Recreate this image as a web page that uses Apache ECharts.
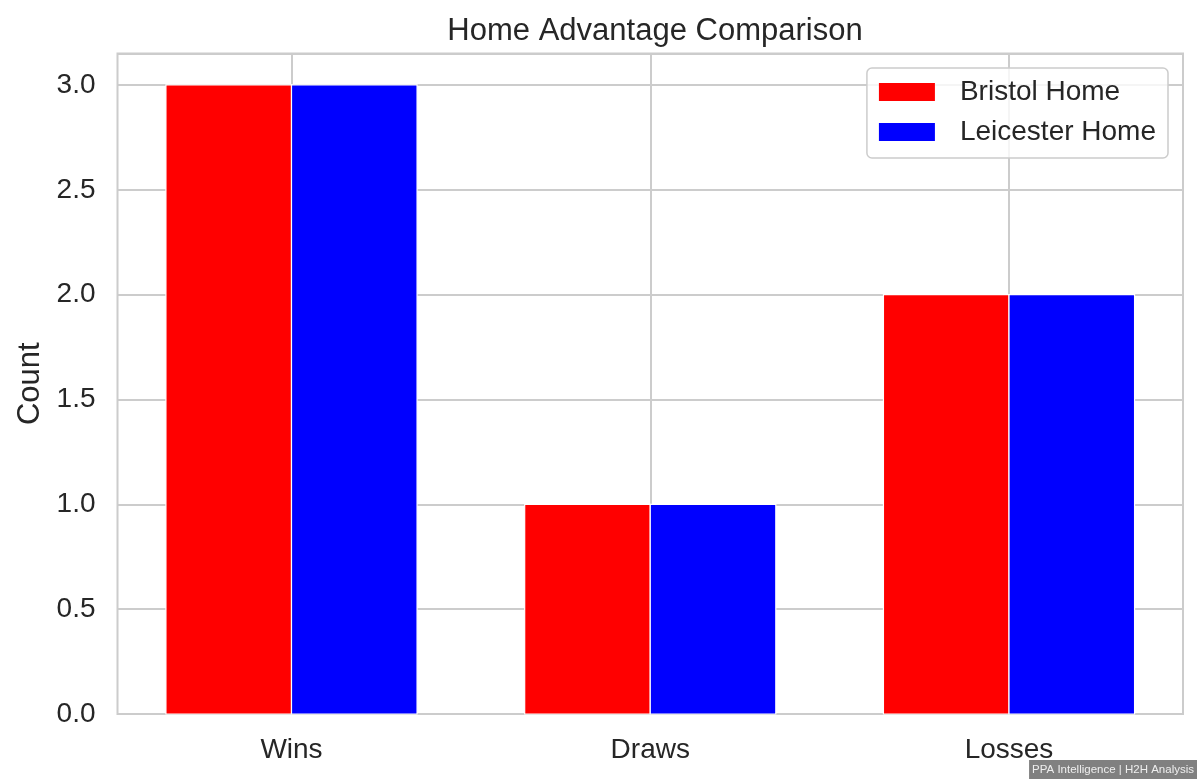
<!DOCTYPE html>
<html>
<head>
<meta charset="utf-8">
<script src="https://cdn.jsdelivr.net/npm/echarts@6/dist/echarts.min.js"></script>
<style>
html,body{margin:0;padding:0;background:#fff;}
#chart{width:1200px;height:781px;}
</style>
</head>
<body>
<div id="chart"></div>
<script>
const categories = ['Wins', 'Draws', 'Losses'];
const bristolHome = [3, 1, 2];
const leicesterHome = [3, 1, 2];
const seriesNames = ['Bristol Home', 'Leicester Home'];
const yTicks = [0, 0.5, 1.0, 1.5, 2.0, 2.5, 3.0];

const FONT = '"Liberation Sans", Arial, sans-serif';
const TXT = '#262626';
const GRIDC = '#cccccc';
const BAR_W = 0.35;
const offsets = [-BAR_W / 2, BAR_W / 2];
const colors = ['#ff0000', '#0000ff'];

function makeRender(k) {
  return function (params, api) {
    const x = api.value(0) + offsets[k];
    const p0 = api.coord([x - BAR_W / 2, api.value(1)]);
    const p1 = api.coord([x + BAR_W / 2, 0]);
    return {
      type: 'rect',
      shape: { x: p0[0], y: p0[1], width: p1[0] - p0[0], height: p1[1] - p0[1] },
      style: api.style({ fill: colors[k], stroke: '#ffffff', lineWidth: 1.2 })
    };
  };
}

const allSeries = [bristolHome, leicesterHome].map((vals, k) => ({
  name: seriesNames[k],
  type: 'custom',
  renderItem: makeRender(k),
  itemStyle: { color: colors[k] },
  encode: { x: 0, y: 1 },
  data: vals.map((v, i) => [i, v]),
  z: 3
}));

const chart = echarts.init(document.getElementById('chart'), null, { renderer: 'canvas' });
chart.setOption({
  animation: false,
  backgroundColor: '#ffffff',
  textStyle: { fontFamily: FONT },
  title: {
    text: 'Home Advantage Comparison',
    left: 650, textAlign: 'center',
    top: 11,
    textStyle: { fontFamily: FONT, fontSize: 31, fontWeight: 'normal', color: TXT }
  },
  legend: {
    orient: 'vertical',
    right: 32, top: 68,
    padding: [10, 12, 12, 12],
    itemWidth: 56, itemHeight: 18, itemGap: 12,
    icon: 'rect',
    borderColor: GRIDC, borderWidth: 1.5, borderRadius: 5,
    backgroundColor: 'rgba(255,255,255,0.8)',
    textStyle: { fontFamily: FONT, fontSize: 28, color: TXT, lineHeight: 28, padding: [0, 0, 0, 20] },
    data: seriesNames
  },
  grid: {
    left: 117.5, right: 17, top: 53.5, bottom: 67,
    show: true, borderColor: GRIDC, borderWidth: 2, backgroundColor: '#ffffff'
  },
  xAxis: {
    type: 'value',
    min: -0.485, max: 2.485,
    axisLine: { show: false },
    axisTick: { show: false, customValues: categories.map((c, i) => i) },
    axisLabel: {
      customValues: categories.map((c, i) => i),
      formatter: v => categories[Math.round(v)] || '',
      fontFamily: FONT, fontSize: 28, color: TXT, margin: 22
    },
    splitLine: { show: true, lineStyle: { color: GRIDC, width: 2 } }
  },
  yAxis: {
    type: 'value',
    min: 0, max: 3.15, interval: 0.5,
    name: 'Count',
    nameLocation: 'middle',
    nameGap: 72,
    nameTextStyle: { fontFamily: FONT, fontSize: 31, color: TXT },
    axisLine: { show: false },
    axisTick: { show: false },
    axisLabel: {
      formatter: v => (yTicks.some(t => Math.abs(t - v) < 1e-6) ? v.toFixed(1) : ''),
      fontFamily: FONT, fontSize: 28, color: TXT, margin: 22
    },
    splitLine: { show: true, lineStyle: { color: GRIDC, width: 2 } }
  },
  graphic: [{
    type: 'text',
    right: 3, bottom: 2,
    z: 100,
    style: {
      text: 'PPA Intelligence | H2H Analysis',
      fontFamily: FONT, fontSize: 11.5,
      fill: '#eeeeee',
      backgroundColor: '#808080',
      padding: [4, 3, 3, 3]
    }
  }],
  series: allSeries
});
</script>
</body>
</html>
